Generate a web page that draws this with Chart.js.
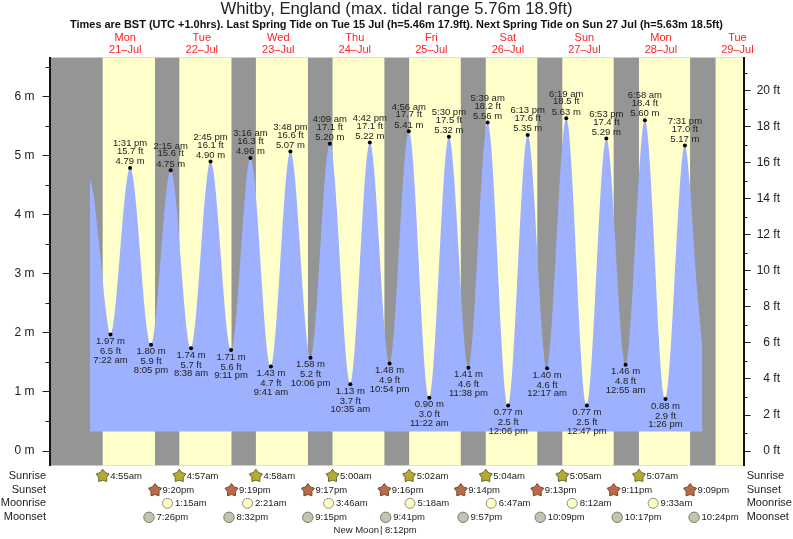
<!DOCTYPE html>
<html>
<head>
<meta charset="utf-8">
<title>Whitby tide chart</title>
<script src="https://cdn.jsdelivr.net/npm/chart.js@4"></script>
<style>
  html, body { margin: 0; padding: 0; background: #fff; }
  canvas { display: block; }
</style>
</head>
<body>
<canvas id="tideChart" width="793" height="539"></canvas>
<script>
const titleText = "Whitby, England (max. tidal range 5.76m 18.9ft)";
const subtitleText = "Times are BST (UTC +1.0hrs). Last Spring Tide on Tue 15 Jul (h=5.46m 17.9ft). Next Spring Tide on Sun 27 Jul (h=5.63m 18.5ft)";

// high and low waters, in date order
const tideDays = [21, 21, 21, 22, 22, 22, 22, 23, 23, 23, 23, 24, 24, 24, 24, 25, 25, 25, 25, 26, 26, 26, 27, 27, 27, 27, 28, 28, 28, 28];
const tideTimes = ["7:22 am", "1:31 pm", "8:05 pm", "2:15 am", "8:38 am", "2:45 pm", "9:11 pm", "3:16 am", "9:41 am", "3:48 pm",
  "10:06 pm", "4:09 am", "10:35 am", "4:42 pm", "10:54 pm", "4:56 am", "11:22 am", "5:30 pm", "11:38 pm", "5:39 am",
  "12:06 pm", "6:13 pm", "12:17 am", "6:19 am", "12:47 pm", "6:53 pm", "12:55 am", "6:58 am", "1:26 pm", "7:31 pm"];
const tideMetres = [1.97, 4.79, 1.80, 4.75, 1.74, 4.90, 1.71, 4.96, 1.43, 5.07,
  1.58, 5.20, 1.13, 5.22, 1.48, 5.41, 0.90, 5.32, 1.41, 5.56,
  0.77, 5.35, 1.40, 5.63, 0.77, 5.29, 1.46, 5.60, 0.88, 5.17];
const tideFeet = [6.5, 15.7, 5.9, 15.6, 5.7, 16.1, 5.6, 16.3, 4.7, 16.6,
  5.2, 17.1, 3.7, 17.1, 4.9, 17.7, 3.0, 17.5, 4.6, 18.2,
  2.5, 17.6, 4.6, 18.5, 2.5, 17.4, 4.8, 18.4, 2.9, 17.0];

const leadInHours = [0.94, 1.98, 4.08, 6.18];
const leadInMetres = [4.61, 4.36, 3.35, 2.27];
const leadOutHours = [189.2, 190.7, 193.0];
const leadOutMetres = [4.42, 3.18, 1.74];
const tideFloor = 0.33;

const dayNames = ["Mon", "Tue", "Wed", "Thu", "Fri", "Sat", "Sun", "Mon", "Tue"];
const dayDates = ["21–Jul", "22–Jul", "23–Jul", "24–Jul", "25–Jul", "26–Jul", "27–Jul", "28–Jul", "29–Jul"];
const dayNumbers = [21, 22, 23, 24, 25, 26, 27, 28, 29];

const metreTicks = [0, 1, 2, 3, 4, 5, 6];
const metreMinorTicks = [0.5, 1.5, 2.5, 3.5, 4.5, 5.5, 6.5];
const feetTicks = [0, 2, 4, 6, 8, 10, 12, 14, 16, 18, 20];
const feetMinorTicks = [1, 3, 5, 7, 9, 11, 13, 15, 17, 19, 21];

const sunriseDays = [21, 22, 23, 24, 25, 26, 27, 28];
const sunriseTimes = ["4:55am", "4:57am", "4:58am", "5:00am", "5:02am", "5:04am", "5:05am", "5:07am"];
const sunsetDays = [21, 22, 23, 24, 25, 26, 27, 28];
const sunsetTimes = ["9:20pm", "9:19pm", "9:17pm", "9:16pm", "9:14pm", "9:13pm", "9:11pm", "9:09pm"];
const moonriseDays = [22, 23, 24, 25, 26, 27, 28];
const moonriseTimes = ["1:15am", "2:21am", "3:46am", "5:18am", "6:47am", "8:12am", "9:33am"];
const moonsetDays = [21, 22, 23, 24, 25, 26, 27, 28];
const moonsetTimes = ["7:26pm", "8:32pm", "9:15pm", "9:41pm", "9:57pm", "10:09pm", "10:17pm", "10:24pm"];
const lastSunrise = [29, "5:08am"]; // only seen as the last yellow band
const newMoon = [24, "8:12pm"];

const FONT = '"Liberation Sans", Arial, sans-serif';
const INK = "#222";
const M_TO_FT = 3.28084;
const Y_MIN = -0.245, Y_MAX = 6.66;

// hours since 21 Jul 00:00
function hoursAt(day, clock) {
  const m = clock.match(/(\d+):(\d+)\s*(am|pm)/);
  let h = parseInt(m[1]) % 12;
  if (m[3] === "pm") h += 12;
  return (day - 21) * 24 + h + parseInt(m[2]) / 60;
}

const tideHours = tideTimes.map((t, i) => hoursAt(tideDays[i], t));
const curve = leadInHours.map((h, i) => ({ x: h, y: leadInMetres[i] }))
  .concat(tideHours.map((h, i) => ({ x: h, y: tideMetres[i] })))
  .concat(leadOutHours.map((h, i) => ({ x: h, y: leadOutMetres[i] })));

function drawStar(ctx, x, y, r, fill, stroke) {
  ctx.beginPath();
  for (let i = 0; i < 10; i++) {
    const rad = i % 2 ? r * 0.62 : r;
    const a = -Math.PI / 2 + i * Math.PI / 5;
    ctx.lineTo(x + rad * Math.cos(a), y + rad * Math.sin(a));
  }
  ctx.closePath();
  ctx.fillStyle = fill;
  ctx.fill();
  ctx.lineWidth = 1;
  ctx.strokeStyle = stroke;
  ctx.stroke();
}

function drawDot(ctx, x, y, r, fill, stroke) {
  ctx.beginPath();
  ctx.arc(x, y, r, 0, Math.PI * 2);
  ctx.fillStyle = fill;
  ctx.fill();
  ctx.lineWidth = 1;
  ctx.strokeStyle = stroke;
  ctx.stroke();
}

// day and night bands behind everything
const bandsPlugin = {
  id: "bands",
  beforeDraw(chart) {
    const { ctx, chartArea: a, scales } = chart;
    ctx.save();
    ctx.fillStyle = "#959595";
    ctx.fillRect(a.left, a.top, a.width, a.height);
    ctx.fillStyle = "#ffffcc";
    sunriseTimes.forEach((t, i) => {
      const x0 = scales.x.getPixelForValue(hoursAt(sunriseDays[i], t));
      const x1 = scales.x.getPixelForValue(hoursAt(sunsetDays[i], sunsetTimes[i]));
      ctx.fillRect(x0, a.top, x1 - x0, a.height);
    });
    const xLast = scales.x.getPixelForValue(hoursAt(lastSunrise[0], lastSunrise[1]));
    ctx.fillRect(xLast, a.top, a.right - xLast, a.height);
    ctx.restore();
  }
};

// minor ticks, tide labels and the almanac rows under the plot
const labelsPlugin = {
  id: "labels",
  afterDatasetsDraw(chart) {
    const { ctx, chartArea: a, scales } = chart;
    ctx.save();

    ctx.strokeStyle = INK;
    ctx.lineWidth = 1;
    metreMinorTicks.forEach(v => {
      const y = Math.round(scales.y.getPixelForValue(v)) + 0.5;
      ctx.beginPath(); ctx.moveTo(a.left - 4, y); ctx.lineTo(a.left, y); ctx.stroke();
    });
    feetMinorTicks.forEach(v => {
      const y = Math.round(scales.yFt.getPixelForValue(v)) + 0.5;
      ctx.beginPath(); ctx.moveTo(a.right, y); ctx.lineTo(a.right + 4, y); ctx.stroke();
    });

    ctx.fillStyle = INK;
    ctx.font = "9.5px " + FONT;
    ctx.textAlign = "center";
    ctx.textBaseline = "middle";
    tideHours.forEach((h, i) => {
      const x = scales.x.getPixelForValue(h);
      const y = scales.y.getPixelForValue(tideMetres[i]);
      const m = tideMetres[i].toFixed(2) + " m", ft = tideFeet[i].toFixed(1) + " ft";
      if (i % 2 === 1) {
        ctx.fillText(m, x, y - 6.4);
        ctx.fillText(ft, x, y - 16.5);
        ctx.fillText(tideTimes[i], x, y - 24.4);
      } else {
        ctx.fillText(m, x, y + 7);
        ctx.fillText(ft, x, y + 17);
        ctx.fillText(tideTimes[i], x, y + 25.4);
      }
    });

    const rowY = { rise: 476, set: 490.3, moonrise: 503.3, moonset: 517.3, phase: 530.3 };
    const rowNames = [["Sunrise", rowY.rise], ["Sunset", rowY.set], ["Moonrise", rowY.moonrise], ["Moonset", rowY.moonset]];
    ctx.font = "11px " + FONT;
    rowNames.forEach(([name, y]) => {
      ctx.textAlign = "right";
      ctx.fillText(name, 46, y);
      ctx.textAlign = "left";
      ctx.fillText(name, 746.7, y);
    });

    const rows = [
      [sunriseDays, sunriseTimes, rowY.rise, (x, y) => drawStar(ctx, x, y, 6.8, "#b3ac30", "#6e6530")],
      [sunsetDays, sunsetTimes, rowY.set, (x, y) => drawStar(ctx, x, y, 6.8, "#b96b48", "#6e4a30")],
      [moonriseDays, moonriseTimes, rowY.moonrise, (x, y) => drawDot(ctx, x, y, 5, "#ffffc8", "#8c8c78")],
      [moonsetDays, moonsetTimes, rowY.moonset, (x, y) => drawDot(ctx, x, y, 5.2, "#c4c4b0", "#78786c")]
    ];
    rows.forEach(([days, times, y, icon]) => {
      times.forEach((t, i) => {
        const x = scales.x.getPixelForValue(hoursAt(days[i], t));
        icon(x, y);
        ctx.fillStyle = INK;
        ctx.font = "9.5px " + FONT;
        ctx.textAlign = "left";
        ctx.fillText(t, x + 7.5, y);
      });
    });

    const xMoon = scales.x.getPixelForValue(hoursAt(newMoon[0], newMoon[1]));
    ctx.textAlign = "right";
    ctx.fillText("New Moon", xMoon - 2, rowY.phase);
    ctx.textAlign = "left";
    ctx.fillText("| " + newMoon[1], xMoon - 1, rowY.phase);
    ctx.restore();
  }
};

new Chart(document.getElementById("tideChart"), {
  type: "line",
  data: {
    datasets: [{
      label: "Tide height",
      data: curve,
      borderColor: "#9eb1ff",
      borderWidth: 0,
      backgroundColor: "#9eb1ff",
      fill: { value: tideFloor },
      cubicInterpolationMode: "monotone",
      // only the high and low waters get a dot
      pointRadius: ctx => (ctx.dataIndex < leadInHours.length || ctx.dataIndex >= leadInHours.length + tideHours.length) ? 0 : 2,
      pointBackgroundColor: "#000",
      pointBorderColor: "#000",
      pointBorderWidth: 0
    }]
  },
  options: {
    responsive: false,
    animation: false,
    devicePixelRatio: 1,
    layout: { padding: { left: 13, right: 13, top: 0, bottom: 73.5 } },
    plugins: {
      legend: { display: false },
      tooltip: { enabled: false },
      title: {
        display: true,
        text: titleText,
        color: INK,
        font: { family: FONT, size: 16.7, weight: "normal", lineHeight: 1.1 },
        padding: { top: 0, bottom: 0 }
      },
      subtitle: {
        display: true,
        text: subtitleText,
        color: "#111",
        font: { family: FONT, size: 10.95, weight: "bold", lineHeight: 1.2 },
        padding: { top: 0, bottom: 0 }
      }
    },
    scales: {
      x: {
        type: "linear",
        position: "top",
        min: -11.76,
        max: 205.9,
        grid: { display: false, drawTicks: false },
        border: { display: false },
        afterBuildTicks: s => { s.ticks = dayNumbers.map(d => ({ value: (d - 21) * 24 + 12 })); },
        afterFit: s => { s.height = 26; },
        ticks: {
          autoSkip: false,
          maxRotation: 0,
          padding: 2,
          color: "#ff2020",
          font: { family: FONT, size: 11, lineHeight: 1.09 },
          callback: (v, i) => [dayNames[i], dayDates[i]]
        }
      },
      y: {
        position: "left",
        min: Y_MIN,
        max: Y_MAX,
        afterBuildTicks: s => { s.ticks = metreTicks.map(v => ({ value: v })); },
        afterFit: s => { s.width = 36.5; },
        border: { color: "#111", width: 2 },
        grid: { drawOnChartArea: false, tickLength: 7, tickColor: INK, tickWidth: 1 },
        ticks: { padding: 8, color: INK, font: { family: FONT, size: 12 }, callback: v => v + " m" }
      },
      yFt: {
        position: "right",
        min: Y_MIN * M_TO_FT,
        max: Y_MAX * M_TO_FT,
        afterBuildTicks: s => { s.ticks = feetTicks.map(v => ({ value: v })); },
        afterFit: s => { s.width = 36.5; },
        border: { color: "#111", width: 2 },
        grid: { drawOnChartArea: false, tickLength: 7, tickColor: INK, tickWidth: 1 },
        ticks: { padding: 8, crossAlign: "far", color: INK, font: { family: FONT, size: 12 }, callback: v => v + " ft" }
      }
    }
  },
  plugins: [bandsPlugin, labelsPlugin]
});
</script>
</body>
</html>
